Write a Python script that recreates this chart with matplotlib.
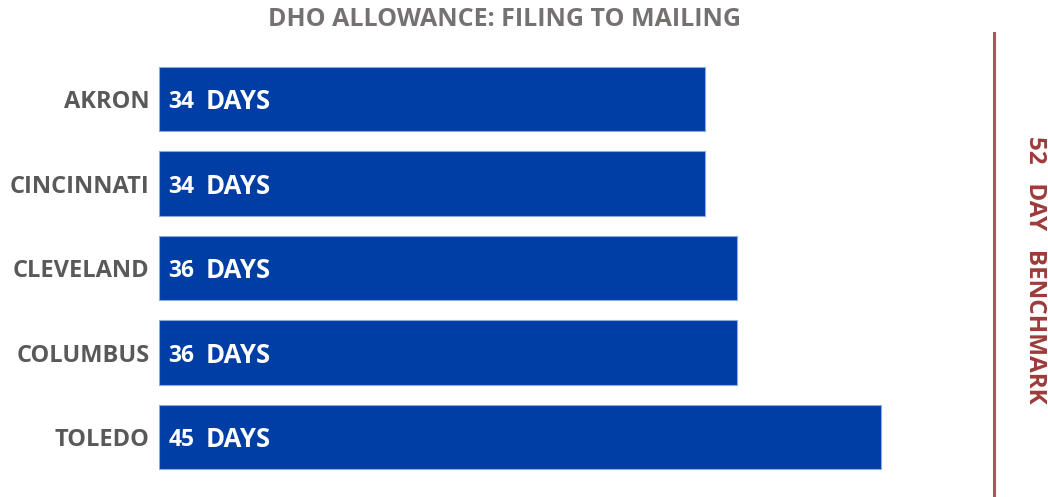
import matplotlib
matplotlib.use("Agg")
import matplotlib.pyplot as plt

# DHO allowance, days from filing to mailing
cities = ["AKRON", "CINCINNATI", "CLEVELAND", "COLUMBUS", "TOLEDO"]
days = [34, 34, 36, 36, 45]
benchmark = 52

bar_color = "#003DA5"
label_gray = "#595959"
title_gray = "#767171"
bench_red = "#9E3A3A"

plt.rcParams["font.family"] = ["Open Sans", "DejaVu Sans"]

fig = plt.figure(figsize=(10.48, 4.97), dpi=100)
ax = fig.add_axes([159 / 1048, 0, 889 / 1048, 1 - 32 / 497])

y = list(range(len(cities)))
ax.barh(y, days, height=0.76, color=bar_color, edgecolor="#8fa8d8", linewidth=0.8)

for i, d in enumerate(days):
    ax.text(0.6, i + 0.04, str(d), color="white", fontsize=16.5, fontweight="bold",
            va="center", ha="left")
    ax.text(2.9, i + 0.03, "DAYS", color="white", fontsize=18.5, fontweight="bold",
            va="center", ha="left")

ax.axvline(benchmark, color="#b5505a", linewidth=2.2)

ax.set_xlim(0, 889 / 16.05)
ax.set_ylim(4.71, -0.793)
ax.set_yticks(y)
ax.set_yticklabels(cities, fontsize=17, fontweight="bold", color=label_gray)
ax.tick_params(axis="y", length=0, pad=7)
ax.set_xticks([])
for s in ax.spines.values():
    s.set_visible(False)

fig.text(505 / 1048, 1 - 20 / 497, "DHO ALLOWANCE: FILING TO MAILING", ha="center", va="center",
         fontsize=18, fontweight="bold", color=title_gray)
fig.text(1035 / 1048, 1 - 270 / 497, "52   DAY   BENCHMARK", ha="center", va="center",
         rotation=270, fontsize=17.5, fontweight="bold", color=bench_red)

fig.savefig("out.png", dpi=100)
